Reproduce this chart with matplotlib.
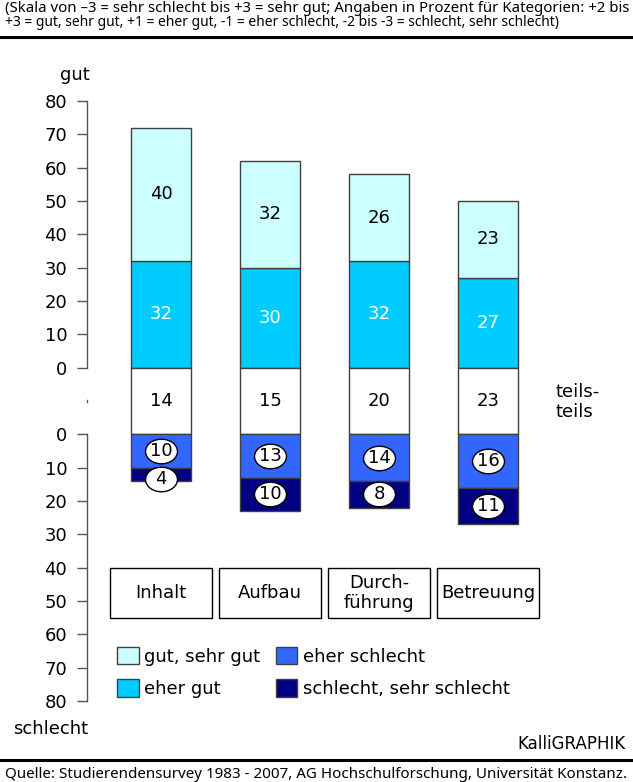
import matplotlib
matplotlib.use("Agg")
import matplotlib.pyplot as plt
from matplotlib.patches import Rectangle, Patch
from matplotlib.lines import Line2D
from matplotlib.path import Path
from matplotlib.transforms import Affine2D
import numpy as np

# Daten
kategorien = ['Inhalt', 'Aufbau', 'Durch-\nführung', 'Betreuung']
gut_sehr_gut = np.array([40, 32, 26, 23])
eher_gut = np.array([32, 30, 32, 27])
teils_teils = np.array([14, 15, 20, 23])
eher_schlecht = np.array([10, 13, 14, 16])
schlecht = np.array([4, 10, 8, 11])
ticks_oben = [0, 10, 20, 30, 40, 50, 60, 70, 80]
ticks_unten = [0, 10, 20, 30, 40, 50, 60, 70, 80]

c_gsg = '#CCFFFF'
c_eg = '#00CCFF'
c_es = '#3366FF'
c_s = '#000080'
kante = '#404040'

kopf1 = '(Skala von \u20133 = sehr schlecht bis +3 = sehr gut; Angaben in Prozent für Kategorien: +2 bis'
kopf2 = '+3 = gut, sehr gut, +1 = eher gut, -1 = eher schlecht, -2 bis -3 = schlecht, sehr schlecht)'
quelle = 'Quelle: Studierendensurvey 1983 - 2007, AG Hochschulforschung, Universität Konstanz.'

plt.rcParams['font.family'] = ['DejaVu Sans']
kopf_font = ['Noto Sans', 'DejaVu Sans']

fs = 13
W, H = 633, 782
fig = plt.figure(figsize=(W / 100, H / 100), dpi=100)
ax = fig.add_axes([87 / W, (H - 701) / H, (W - 87) / W, 600 / H])
ax.set_ylim(-100, 80)
xmin = -0.679
ax.set_xlim(xmin, xmin + 546 / 109)
for s in ax.spines.values():
    s.set_visible(False)

band = 20  # Hoehe des teils-teils Bereichs
x = np.arange(len(kategorien))
bw = 0.55

ax.bar(x, eher_gut, bw, bottom=0, color=c_eg, edgecolor=kante, lw=1)
ax.bar(x, gut_sehr_gut, bw, bottom=eher_gut, color=c_gsg, edgecolor=kante, lw=1)
ax.bar(x, band, bw, bottom=-band, color='white', edgecolor=kante, lw=1)
ax.bar(x, -eher_schlecht, bw, bottom=-band, color=c_es, edgecolor=kante, lw=1)
ax.bar(x, -schlecht, bw, bottom=-band - eher_schlecht, color=c_s, edgecolor=kante, lw=1)

ell = Path.unit_circle().transformed(Affine2D().scale(1.3, 1.0))
for i in x:
    ax.text(i, eher_gut[i] + gut_sehr_gut[i] / 2, str(gut_sehr_gut[i]), ha='center', va='center', fontsize=fs)
    ax.text(i, eher_gut[i] / 2, str(eher_gut[i]), ha='center', va='center', fontsize=fs, color='white')
    ax.text(i, -band / 2, str(teils_teils[i]), ha='center', va='center', fontsize=fs)
    y1 = -band - eher_schlecht[i] / 2
    if schlecht[i] < 6:
        y2 = -band - eher_schlecht[i] - schlecht[i] + 0.5
    else:
        y2 = -band - eher_schlecht[i] - schlecht[i] / 2
    for yy, val in [(y1, eher_schlecht[i]), (y2, schlecht[i])]:
        ax.plot(i, yy, marker=ell, ms=23, mfc='white', mec='black', mew=1, ls='none', zorder=4, clip_on=False)
        ax.text(i, yy, str(val), ha='center', va='center', fontsize=fs, zorder=5)
    # Kategorie-Kasten
    ax.add_patch(Rectangle((i - 0.468, -75), 0.936, 15, fc='white', ec='black', lw=1))
    ax.text(i, -67.5, kategorien[i], ha='center', va='center', fontsize=fs, linespacing=1.15)

# y-Achse mit Luecke
ax.plot([xmin, xmin], [0, 80], color='#555555', lw=1, clip_on=False)
ax.plot([xmin, xmin], [-band - 80, -band], color='#555555', lw=1, clip_on=False)
ax.plot([xmin, xmin], [-10.4, -9.6], color='#555555', lw=1, clip_on=False)
pos = list(ticks_oben) + [-band - t for t in ticks_unten]
lab = [str(t) for t in ticks_oben] + [str(t) for t in ticks_unten]
ax.set_yticks(pos)
ax.set_yticklabels(lab)
ax.tick_params(axis='y', length=7.2, width=1, color='#555555', pad=7, labelsize=fs)
ax.set_xticks([])

fig.text(75 / W, 1 - 75 / H, 'gut', ha='center', va='center', fontsize=fs)
fig.text(51 / W, 1 - 729 / H, 'schlecht', ha='center', va='center', fontsize=fs)
fig.text(555 / W, 1 - 402 / H, 'teils-\nteils', ha='left', va='center', fontsize=fs, linespacing=1.15)
fig.text(626 / W, 1 - 744 / H, 'KalliGRAPHIK', ha='right', va='center', fontsize=12)

handles = [Patch(fc=c_gsg, ec=kante), Patch(fc=c_eg, ec=kante), Patch(fc=c_es, ec=kante), Patch(fc=c_s, ec=kante)]
labels = ['gut, sehr gut', 'eher gut', 'eher schlecht', 'schlecht, sehr schlecht']
fig.legend(handles, labels, ncol=2, loc='upper left', bbox_to_anchor=(117 / W, 1 - 647 / H),
           frameon=False, fontsize=fs, handlelength=1.2, handleheight=1.1, handletextpad=0.3,
           columnspacing=0.85, labelspacing=0.75, borderpad=0, borderaxespad=0)

# Kopf und Fuss
fig.add_artist(Line2D([0, 1], [1 - 37 / H] * 2, color='black', lw=2.2))
fig.add_artist(Line2D([0, 1], [1 - 760 / H] * 2, color='black', lw=2.2))
t1 = fig.text(5 / W, 1 - 9 / H, kopf1, ha='left', va='center', fontsize=10, family=kopf_font)
t2 = fig.text(5 / W, 1 - 23 / H, kopf2, ha='left', va='center', fontsize=10, family=kopf_font)
t3 = fig.text(5 / W, 1 - 774 / H, quelle, ha='left', va='center', fontsize=10, family=kopf_font)

# Schriftgroesse an Breite anpassen
r = fig.canvas.get_renderer()
for t, breite in [(t1, 623), (t2, 555), (t3, 622)]:
    w = t.get_window_extent(r).width
    t.set_fontsize(10 * breite / w)

fig.savefig('out.png', dpi=100)
